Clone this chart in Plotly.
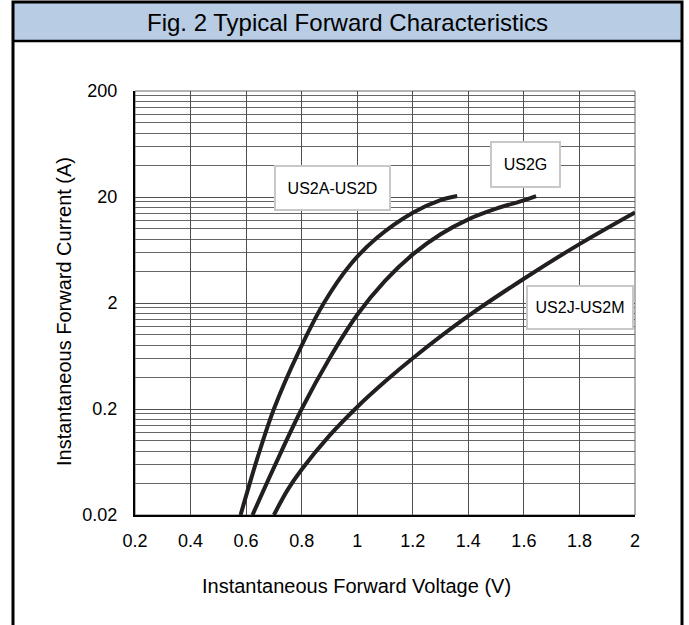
import plotly.graph_objects as go

# ---- data ----
v_us2a = [0.58, 0.64, 0.70, 0.79, 0.88, 0.975, 1.07, 1.20, 1.30, 1.36]
i_us2a = [0.02, 0.068, 0.2, 0.70, 2.0, 4.6, 8.2, 14.2, 18.7, 20.4]

v_us2g = [0.623, 0.70, 0.80, 0.90, 1.00, 1.10, 1.20, 1.30, 1.40, 1.50, 1.60, 1.644]
i_us2g = [0.02, 0.056, 0.2, 0.60, 1.55, 3.24, 5.75, 8.9, 12.3, 15.5, 18.6, 20.4]

v_us2j = [0.70, 0.75, 0.80, 0.90, 1.00, 1.10, 1.20, 1.40, 1.60, 1.80, 2.00]
i_us2j = [0.02, 0.0347, 0.0537, 0.112, 0.209, 0.363, 0.603, 1.51, 3.39, 7.19, 14.3]

x_tickvals = [0.2, 0.4, 0.6, 0.8, 1.0, 1.2, 1.4, 1.6, 1.8, 2.0]
x_ticktext = ["0.2", "0.4", "0.6", "0.8", "1", "1.2", "1.4", "1.6", "1.8", "2"]
y_tickvals = [0.02, 0.2, 2, 20, 200]
y_ticktext = ["0.02", "0.2", "2", "20", "200"]
y_minor = [d * k for d in [0.02, 0.2, 2, 20] for k in range(2, 10)]

labels = ["US2A-US2D", "US2G", "US2J-US2M"]

# ---- layout geometry (pixels) ----
W, H = 689, 625
L, R, T, B = 135, 54, 91, 110
PW, PH = W - L - R, H - T - B


def px(x):
    return (x - L) / PW


def py(y):
    return (H - B - y) / PH


FONT = "Liberation Sans, Arial, sans-serif"
LINE = "#231f20"

fig = go.Figure()
for v, i, name in [(v_us2a, i_us2a, labels[0]), (v_us2g, i_us2g, labels[1]), (v_us2j, i_us2j, labels[2])]:
    fig.add_trace(go.Scatter(x=v, y=i, mode="lines", name=name,
                             line=dict(color=LINE, width=4, shape="spline", smoothing=1.0),
                             showlegend=False, hoverinfo="skip"))

fig.update_layout(
    width=W, height=H,
    margin=dict(l=L, r=R, t=T, b=B),
    paper_bgcolor="white", plot_bgcolor="white",
    font=dict(family=FONT, color="black"),
    showlegend=False,
)
fig.update_xaxes(
    range=[0.2, 2.0], tickmode="array", tickvals=x_tickvals, ticktext=x_ticktext,
    showgrid=True, gridcolor="#505050", gridwidth=1,
    showline=True, linecolor="black", linewidth=2,
    ticks="", ticklabelstandoff=8, tickfont=dict(size=18, family=FONT, color="black"),
    zeroline=False, fixedrange=True,
)
fig.update_yaxes(
    type="log", range=[-1.69897, 2.30103], tickmode="array",
    tickvals=y_tickvals, ticktext=y_ticktext,
    showgrid=True, gridcolor="#505050", gridwidth=1,
    minor=dict(tickmode="array", tickvals=y_minor, showgrid=True, gridcolor="#666666", gridwidth=1, ticks=""),
    showline=True, linecolor="black", linewidth=2,
    ticks="", ticklabelstandoff=12, tickfont=dict(size=18, family=FONT, color="black"),
    zeroline=False, fixedrange=True,
)

shapes = []
shapes.append(dict(type="rect", xref="paper", yref="paper", x0=0, x1=1, y0=0, y1=1,
                   line=dict(color="#666666", width=1), layer="below"))
shapes.append(dict(type="rect", xref="paper", yref="paper", x0=px(13), x1=px(682), y0=py(41), y1=py(2),
                   fillcolor="#b8cce4", line=dict(width=0), layer="below"))
shapes.append(dict(type="line", xref="paper", yref="paper", x0=px(13), x1=px(682), y0=py(41), y1=py(41),
                   line=dict(color="black", width=2.5)))
shapes.append(dict(type="rect", xref="paper", yref="paper", x0=px(13), x1=px(682), y0=py(640), y1=py(2),
                   line=dict(color="black", width=3), fillcolor="rgba(0,0,0,0)"))
fig.update_layout(shapes=shapes)

annotations = []
annotations.append(dict(text="Fig. 2 Typical Forward Characteristics", xref="paper", yref="paper",
                        x=px(347), y=py(22), showarrow=False, xanchor="center", yanchor="middle",
                        font=dict(size=24, family=FONT, color="black")))
annotations.append(dict(text="Instantaneous Forward Voltage (V)", xref="paper", yref="paper",
                        x=px(356), y=py(586), showarrow=False, xanchor="center", yanchor="middle",
                        font=dict(size=20, family=FONT, color="black")))
annotations.append(dict(text="Instantaneous Forward Current (A)", xref="paper", yref="paper",
                        x=px(64), y=py(312), showarrow=False, xanchor="center", yanchor="middle",
                        textangle=-90, font=dict(size=20, family=FONT, color="black")))
boxes = [(332, 188, 113, 42), (525, 164.5, 67, 43), (580, 307.5, 104, 41)]
for lab, (cx, cy, bw, bh) in zip(labels, boxes):
    annotations.append(dict(text=lab, xref="paper", yref="paper", x=px(cx), y=py(cy),
                            showarrow=False, xanchor="center", yanchor="middle",
                            width=bw, height=bh, borderpad=0, borderwidth=2,
                            bordercolor="#c8c8c8", bgcolor="white",
                            font=dict(size=16, family=FONT, color="black")))
fig.update_layout(annotations=annotations)

fig.write_html("out.html",
               config={"displayModeBar": False, "staticPlot": True},
               post_script="document.body.style.margin='0px';document.body.style.overflow='hidden';")
